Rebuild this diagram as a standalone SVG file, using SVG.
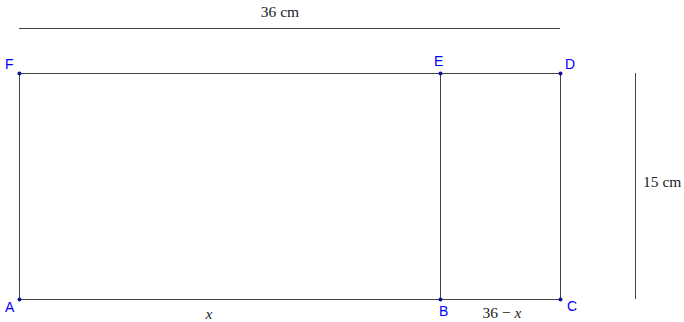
<svg xmlns="http://www.w3.org/2000/svg" width="684" height="322" viewBox="0 0 684 322">
<style>
.ln{stroke:#444;stroke-width:1;fill:none}
.pt{fill:#1010a0}
.lb{font-family:"Liberation Sans",Arial,sans-serif;font-size:14px;fill:#0000ff}
.m{font-family:"Liberation Serif","Times New Roman",serif;font-size:15.5px;fill:#222}
.mi{font-style:italic}
</style>
<rect width="684" height="322" fill="#fff"/>
<g id="connectors">
<line class="ln" x1="19" y1="28.5" x2="560" y2="28.5"/>
<line class="ln" x1="635.5" y1="73" x2="635.5" y2="299"/>
<line class="ln" x1="19" y1="73.5" x2="560" y2="73.5"/>
<line class="ln" x1="19" y1="299.5" x2="560" y2="299.5"/>
<line class="ln" x1="19.5" y1="73" x2="19.5" y2="299"/>
<line class="ln" x1="440.5" y1="73" x2="440.5" y2="299"/>
<line class="ln" x1="560.5" y1="73" x2="560.5" y2="299"/>
</g>
<g id="F"><circle class="pt" cx="19.5" cy="73.5" r="2"/><text class="lb" x="5" y="69">F</text></g>
<g id="E"><circle class="pt" cx="440.5" cy="73.5" r="2"/><text class="lb" x="434" y="66">E</text></g>
<g id="D"><circle class="pt" cx="560.5" cy="73.5" r="2"/><text class="lb" x="565" y="69">D</text></g>
<g id="A"><circle class="pt" cx="19.5" cy="299.5" r="2"/><text class="lb" x="5" y="312">A</text></g>
<g id="B"><circle class="pt" cx="440.5" cy="299.5" r="2"/><text class="lb" x="439" y="316">B</text></g>
<g id="C"><circle class="pt" cx="560.5" cy="299.5" r="2"/><text class="lb" x="567" y="311">C</text></g>
<g id="labels">
<text class="m" x="280" y="17" text-anchor="middle">36 cm</text>
<text class="m" x="643" y="187">15 cm</text>
<text class="m mi" x="209" y="319" text-anchor="middle">x</text>
<text class="m" x="502" y="318" text-anchor="middle">36 − <tspan class="mi">x</tspan></text>
</g>
</svg>
